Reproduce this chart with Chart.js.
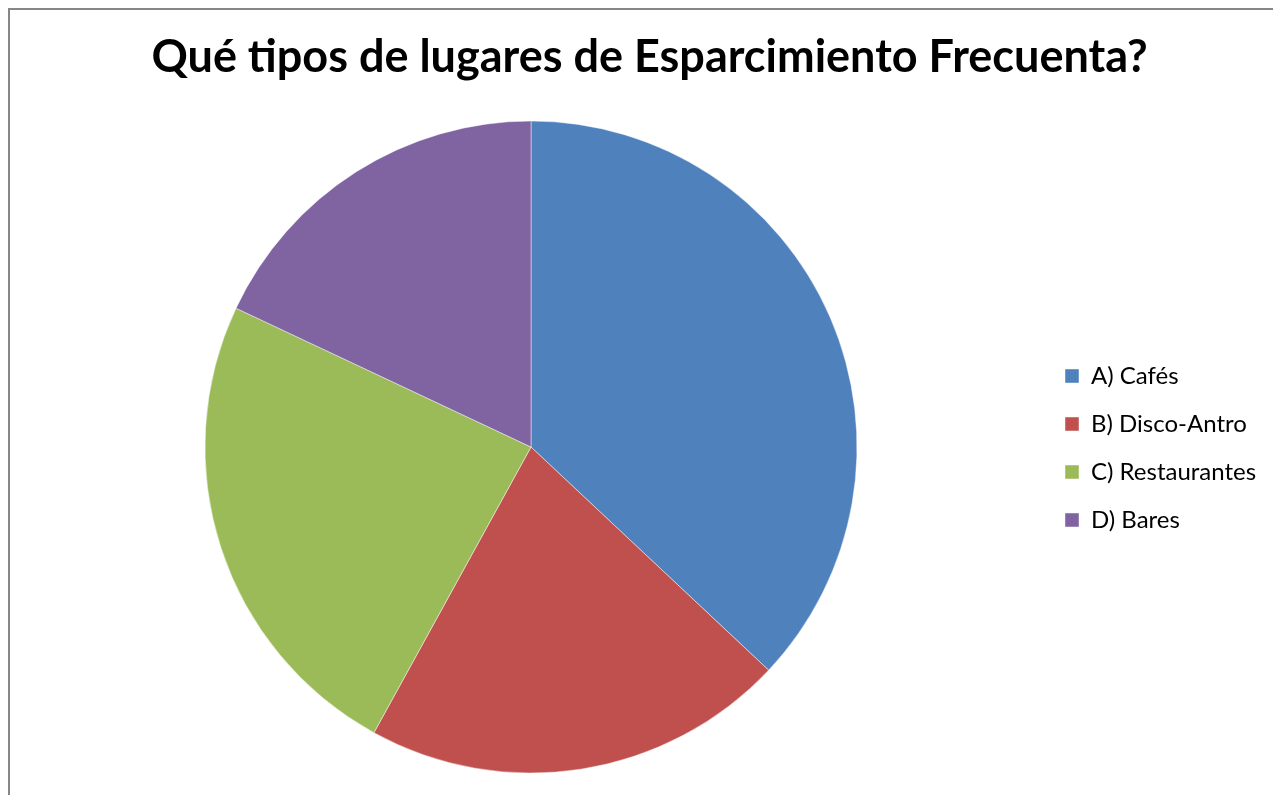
<!DOCTYPE html>
<html>
<head>
<meta charset="utf-8">
<script src="https://cdn.jsdelivr.net/npm/chart.js@4.4.1/dist/chart.umd.min.js"></script>
<style>
  html, body { margin: 0; padding: 0; background: #fff; overflow: hidden; }
  #wrap { position: absolute; left: 0; top: 0; width: 1273px; height: 795px; }
  #frame { position: absolute; left: 8px; top: 8px; width: 1300px; height: 820px; border-left: 2px solid #878787; border-top: 2px solid #878787; }
  canvas { position: absolute; left: 0; top: 0; }
</style>
</head>
<body>
<div id="wrap">
  <div id="frame"></div>
  <canvas id="c" width="1273" height="795"></canvas>
</div>
<script>
const chartTitle = 'Qué tipos de lugares de Esparcimiento Frecuenta?';
const categories = ['A) Cafés', 'B) Disco-Antro', 'C) Restaurantes', 'D) Bares'];
const values = [37, 21, 24, 18];
const colors = ['#4F81BD', '#C0504D', '#9BBB59', '#8064A2'];

const legendFont = { family: 'Lato', size: 24 };
const legendPad = 24, boxW = 14;
const mctx = document.createElement('canvas').getContext('2d');
mctx.font = legendFont.size + 'px ' + legendFont.family;
let maxW = 0;
categories.forEach(t => { maxW = Math.max(maxW, mctx.measureText(t).width); });
const legendWidth = legendPad + boxW + legendFont.size / 2 + maxW + 10;
const rightPad = Math.max(0, 1273 - 1041 - legendWidth);

const placeBoxes = {
  id: 'placeBoxes',
  afterLayout(chart) {
    const t = chart.titleBlock;
    if (t) { t.left += 12; }
    const l = chart.legend;
    if (l) { const h = l.bottom - l.top; l.top = 340; l.bottom = 340 + h; }
  }
};

new Chart(document.getElementById('c'), {
  type: 'pie',
  data: {
    labels: categories,
    datasets: [{
      data: values,
      backgroundColor: colors,
      borderColor: 'rgba(255,255,255,0.45)',
      borderWidth: 1
    }]
  },
  options: {
    responsive: false,
    animation: false,
    layout: { padding: { left: 21, right: rightPad, top: 0, bottom: 21.5 } },
    plugins: {
      title: {
        display: true,
        text: chartTitle,
        color: '#000',
        font: { family: 'Lato', size: 45, weight: 'bold', lineHeight: 1 },
        padding: { top: 35.1, bottom: 40.4 }
      },
      legend: {
        position: 'right',
        align: 'start',
        labels: {
          font: legendFont,
          color: '#000',
          boxWidth: boxW,
          boxHeight: 14,
          padding: legendPad
        }
      },
      tooltip: { enabled: false }
    }
  },
  plugins: [placeBoxes]
});
</script>
</body>
</html>
